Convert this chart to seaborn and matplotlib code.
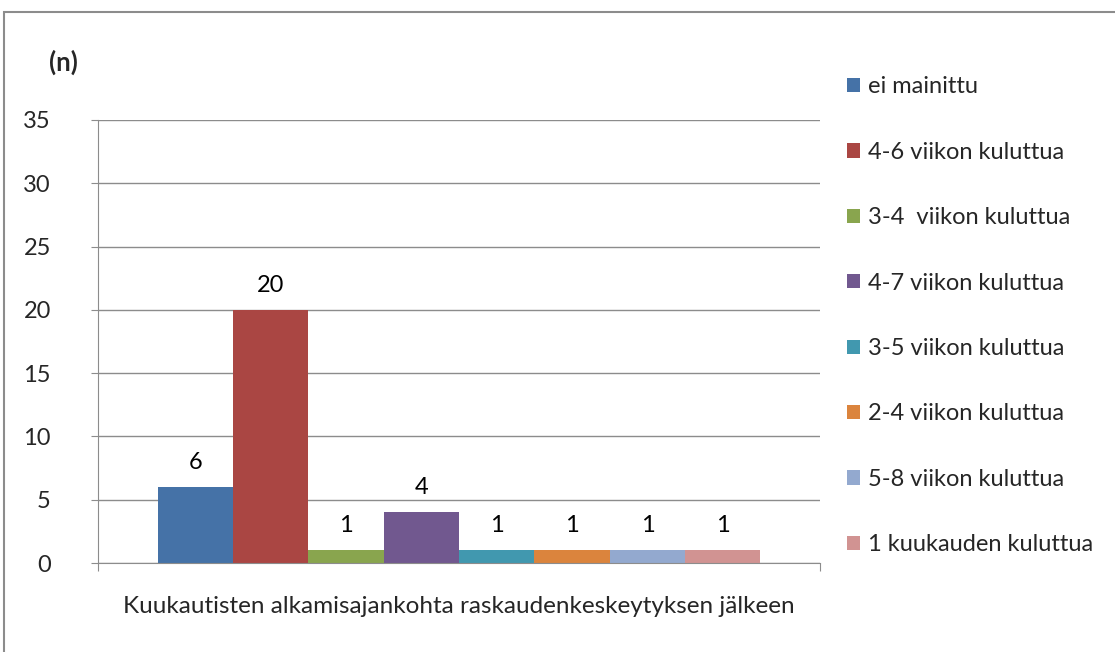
import pandas as pd
import matplotlib.pyplot as plt
import seaborn as sns
from matplotlib.patches import Rectangle, Patch

# Data
category = 'Kuukautisten alkamisajankohta raskaudenkeskeytyksen jälkeen'
labels = ['ei mainittu', '4-6 viikon kuluttua', '3-4  viikon kuluttua', '4-7 viikon kuluttua',
          '3-5 viikon kuluttua', '2-4 viikon kuluttua', '5-8 viikon kuluttua', '1 kuukauden kuluttua']
values = [6, 20, 1, 4, 1, 1, 1, 1]
colors = ['#4572A7', '#AA4643', '#89A54E', '#71588F', '#4198AF', '#DB843D', '#93A9CF', '#D19392']

df = pd.DataFrame({'cat': [category] * len(labels), 'label': labels, 'value': values})

sns.set_style('white')
plt.rcParams['font.family'] = ['Lato', 'DejaVu Sans']
fs = 17

fig = plt.figure(figsize=(11.15, 6.52), dpi=100)
ax = fig.add_axes([98 / 1115, 1 - 563 / 652, (820 - 98) / 1115, (563 - 120) / 652])

sns.barplot(data=df, x='cat', y='value', hue='label', hue_order=labels, palette=colors,
            width=0.835, saturation=1, linewidth=0, ax=ax, legend=False)

for c in ax.containers:
    ax.bar_label(c, padding=10, fontsize=fs, color='black')

# axes styling (Excel look)
ax.set_ylim(0, 35)
ax.set_yticks(range(0, 36, 5))
ax.set_xlim(-0.5, 0.5)
ax.yaxis.grid(True, color='#8c8c8c', linewidth=1)
ax.set_axisbelow(True)
for s in ['top', 'right']:
    ax.spines[s].set_visible(False)
for s in ['left', 'bottom']:
    ax.spines[s].set_color('#8c8c8c')
ax.tick_params(axis='y', length=5, color='#8c8c8c', direction='out', labelsize=fs, pad=29, left=True)
ax.set_xticks([-0.5, 0.5])
ax.set_xticklabels(['', ''])
ax.tick_params(axis='x', length=6, color='#8c8c8c', direction='out', bottom=True)
ax.set_xlabel(category, fontsize=17.5, labelpad=14)
ax.set_ylabel('')

fig.text(49 / 1115, 1 - 62 / 652, '(n)', fontsize=18.5, fontweight='bold', va='center', ha='left')

handles = [Patch(facecolor=c, edgecolor='none') for c in colors]
fig.legend(handles, labels, loc='upper left', bbox_to_anchor=(838 / 1115, 1 - 67 / 652),
           frameon=False, fontsize=fs, handlelength=0.55, handleheight=0.55,
           handletextpad=0.3, labelspacing=1.88, borderaxespad=0)

# outer chart border
fig.patches.append(Rectangle((4 / 1115, -0.05), 1.2, 1 - 12 / 652 + 0.05, transform=fig.transFigure,
                             fill=False, edgecolor='#8c8c8c', linewidth=1.5))

fig.savefig('out.png', dpi=100)
